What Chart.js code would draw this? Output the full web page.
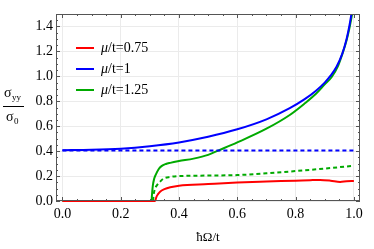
<!DOCTYPE html>
<html>
  <head>
    <title>sigma_yy vs hbar Omega</title>
    <style>
      body { margin: 0; background: #fff; }
      #wrap { width: 374px; height: 249px; position: relative; }
    </style>
  </head>
  <body>
    <div id="wrap"><canvas id="canvas"></canvas></div>

    <script src="https://cdn.jsdelivr.net/npm/chart.js@4/dist/chart.umd.min.js"></script>
    <script>
      // data
      const redX = [0, 0.318, 0.322, 0.328, 0.335, 0.35, 0.37, 0.4, 0.5, 0.6, 0.7, 0.8, 0.85, 0.884, 0.92, 0.953, 0.975, 1.0];
      const redY = [0, 0, 0.03, 0.055, 0.075, 0.095, 0.11, 0.123, 0.136, 0.148, 0.156, 0.163, 0.167, 0.169, 0.163, 0.153, 0.158, 0.16];

      const blueX = [0, 0.1, 0.2, 0.3, 0.4, 0.5, 0.6, 0.7, 0.78, 0.83, 0.87, 0.9, 0.92, 0.94, 0.96, 0.975, 0.985, 0.993];
      const blueY = [0.408, 0.411, 0.42, 0.44, 0.47, 0.515, 0.575, 0.655, 0.745, 0.815, 0.885, 0.95, 1.005, 1.075, 1.18, 1.3, 1.41, 1.52];

      const greenX = [0, 0.306, 0.307, 0.31, 0.315, 0.32, 0.33, 0.34, 0.355, 0.37, 0.4, 0.45, 0.5, 0.53, 0.6, 0.7, 0.78, 0.83, 0.87, 0.9, 0.924, 0.945, 0.962, 0.975, 0.985, 0.994, 1.0];
      const greenY = [0, 0, 0.04, 0.12, 0.18, 0.21, 0.255, 0.28, 0.297, 0.306, 0.32, 0.34, 0.37, 0.4, 0.47, 0.58, 0.69, 0.78, 0.86, 0.935, 0.995, 1.08, 1.19, 1.29, 1.39, 1.5, 1.58];

      const blueDashX = [0, 1.0];
      const blueDashY = [0.405, 0.405];

      const greenDashX = [0.311, 0.313, 0.318, 0.324, 0.335, 0.347, 0.37, 0.4, 0.5, 0.6, 0.7, 0.8, 0.9, 1.0];
      const greenDashY = [0, 0.05, 0.1, 0.125, 0.155, 0.18, 0.193, 0.2, 0.204, 0.208, 0.222, 0.24, 0.26, 0.283];

      const legendLabels = ["0.75", "1", "1.25"];
      const xTicks = [0, 0.2, 0.4, 0.6, 0.8, 1.0];
      const yTicks = [0, 0.2, 0.4, 0.6, 0.8, 1.0, 1.2, 1.4];

      const RED = "rgb(255, 0, 0)";
      const BLUE = "rgb(0, 0, 255)";
      const GREEN = "rgb(0, 170, 0)";
      const SERIF = "'Liberation Serif', 'DejaVu Serif', serif";

      function pts(xs, ys) {
        return xs.map((x, i) => ({ x: x, y: ys[i] }));
      }

      function lineSet(label, xs, ys, color, dash) {
        return {
          label: label,
          data: pts(xs, ys),
          borderColor: color,
          borderWidth: 2,
          borderDash: dash || [],
          pointRadius: 0,
          cubicInterpolationMode: "monotone",
          clip: { left: 2, top: 0, right: 2, bottom: 2 },
        };
      }

      // frame with inward ticks, like the original
      const framePlugin = {
        id: "frame",
        afterDatasetsDraw(chart) {
          const { ctx, chartArea: a, scales } = chart;
          const xs = scales.x, ys = scales.y;
          ctx.save();
          ctx.strokeStyle = "#555";
          ctx.lineWidth = 1;
          ctx.strokeRect(a.left + 0.5, a.top + 0.5, a.right - a.left - 1, a.bottom - a.top - 1);
          ctx.beginPath();
          for (let i = 0; i <= 20; i++) {
            const v = i * 0.05;
            const len = i % 4 === 0 ? 4 : 2;
            const px = Math.round(xs.getPixelForValue(v)) + 0.5;
            ctx.moveTo(px, a.bottom); ctx.lineTo(px, a.bottom - len);
            ctx.moveTo(px, a.top); ctx.lineTo(px, a.top + len);
          }
          for (let i = 0; i <= 29; i++) {
            const v = i * 0.05;
            const len = i % 4 === 0 ? 4 : 2;
            const py = Math.round(ys.getPixelForValue(v)) + 0.5;
            ctx.moveTo(a.left, py); ctx.lineTo(a.left + len, py);
            ctx.moveTo(a.right, py); ctx.lineTo(a.right - len, py);
          }
          ctx.stroke();
          ctx.restore();
        },
        afterDraw(chart) {
          const ctx = chart.ctx;
          ctx.save();
          // y axis title as a fraction
          ctx.fillStyle = "#000";
          ctx.textBaseline = "alphabetic";
          ctx.font = "14px " + SERIF;
          ctx.fillText("\u03c3", 4, 97);
          ctx.font = "9px " + SERIF;
          ctx.fillText("yy", 12, 100);
          ctx.fillRect(3, 106, 21, 1);
          ctx.font = "14px " + SERIF;
          ctx.fillText("\u03c3", 6, 121);
          ctx.font = "9px " + SERIF;
          ctx.fillText("0", 14, 124);

          // legend
          const colors = [RED, BLUE, GREEN];
          legendLabels.forEach((lab, i) => {
            const y = 48 + i * 21;
            ctx.strokeStyle = colors[i];
            ctx.lineWidth = 2;
            ctx.beginPath();
            ctx.moveTo(76, y); ctx.lineTo(94, y);
            ctx.stroke();
            ctx.textBaseline = "middle";
            ctx.font = "italic 14px " + SERIF;
            ctx.fillText("\u03bc", 101, y);
            const w = ctx.measureText("\u03bc").width;
            ctx.font = "14px " + SERIF;
            ctx.fillText("/t=" + lab, 101 + w, y);
          });
          ctx.restore();
        },
      };

      const config = {
        type: "line",
        data: {
          datasets: [
            lineSet("blue dashed", blueDashX, blueDashY, BLUE, [4, 3]),
            lineSet("green dashed", greenDashX, greenDashY, GREEN, [4, 3]),
            lineSet("mu/t=0.75", redX, redY, RED),
            lineSet("mu/t=1", blueX, blueY, BLUE),
            lineSet("mu/t=1.25", greenX, greenY, GREEN),
          ],
        },
        options: {
          responsive: true,
          maintainAspectRatio: false,
          animation: false,
          layout: { padding: { top: 14, right: 14, left: 0, bottom: 0 } },
          plugins: { legend: { display: false }, tooltip: { enabled: false } },
          scales: {
            x: {
              type: "linear",
              min: -0.022,
              max: 1.021,
              afterBuildTicks: (s) => { s.ticks = xTicks.map((v) => ({ value: v })); },
              afterFit: (s) => { s.height = 48; },
              grid: { color: "#ebebeb", drawTicks: false },
              border: { display: false },
              ticks: {
                padding: 5,
                color: "#000",
                font: { family: SERIF, size: 14 },
                callback: (v) => Number(v).toFixed(1),
              },
              title: {
                display: true,
                text: "\u0127\u03a9/t",
                color: "#000",
                font: { family: SERIF, size: 13 },
                padding: { top: 4, bottom: 4 },
              },
            },
            y: {
              type: "linear",
              min: 0,
              max: 1.5,
              afterBuildTicks: (s) => { s.ticks = yTicks.map((v) => ({ value: v })); },
              afterFit: (s) => { s.width = 56; },
              grid: { color: "#ebebeb", drawTicks: false },
              border: { display: false },
              ticks: {
                padding: 3,
                color: "#000",
                font: { family: SERIF, size: 14 },
                callback: (v) => Number(v).toFixed(1),
              },
            },
          },
        },
        plugins: [framePlugin],
      };

      const ctx = document.getElementById("canvas").getContext("2d");
      const chart = new Chart(ctx, config);
    </script>
  </body>
</html>
